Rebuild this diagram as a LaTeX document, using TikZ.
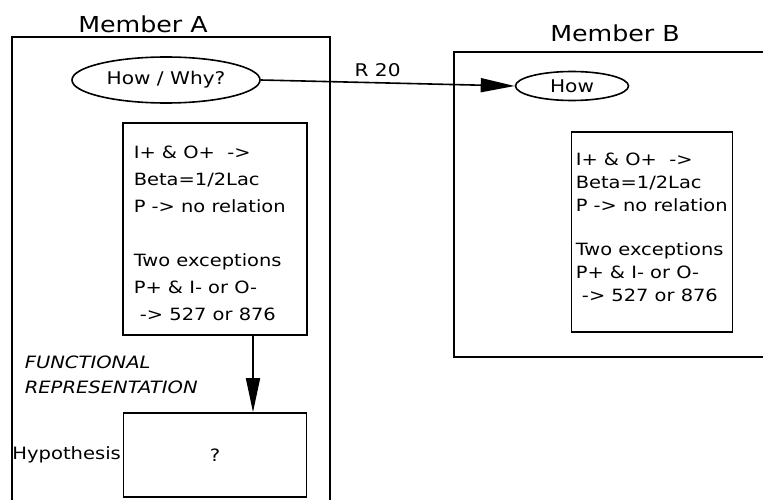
\documentclass[tikz,border=0pt]{standalone}
\usepackage{fontspec}
\setmainfont{DejaVu Sans}[FakeStretch=1.15]
\usepackage{tikz}
\usetikzlibrary{positioning}
\usetikzlibrary{arrows.meta}
\usetikzlibrary{shapes.geometric}

\begin{document}
\begin{tikzpicture}[x=1pt,y=-1pt,line width=1.6pt,>={Triangle[length=34pt,width=14pt]},
member/.style={font=\fontsize{22}{26}\selectfont,inner sep=0pt,anchor=base},
oval/.style={draw,ellipse,inner sep=0pt,font=\fontsize{17.5}{21}\selectfont},
textbox/.style={draw,rectangle,minimum width=#1,inner sep=0pt},
rules/.style={align=left,inner sep=0pt,anchor=north west,font=\fontsize{16.9}{#1}\selectfont}]

\clip (0,0) rectangle (763,500);

% member A
\node[member] (memA) at (143,33) {Member A};
\draw (12,37) rectangle (330,520);
\node[oval,minimum width=188pt,minimum height=46pt] (hw) at (166,80) {How / Why?};
\node[textbox=184pt,minimum height=212pt] (boxA) at (215,229) {};
\node[rules=27pt] (txtA) at (133,145) {I+ \& O+~~->\\Beta=1/2Lac\\P -> no relation\\[27pt]Two exceptions\\P+ \& I- or O-\\~-> 527 or 876};
\node[textbox=183pt,minimum height=84pt,font=\fontsize{17}{21}\selectfont] (hyp) at (215,455) {?};
\node[left=1pt of hyp,inner sep=0pt,font=\fontsize{17}{21}\selectfont] (hyplab) {Hypothesis};
\node[align=left,anchor=west,inner sep=0pt,font=\fontsize{17}{25}\selectfont\itshape] (func) at (24,375) {FUNCTIONAL\\REPRESENTATION};
\draw[->] (boxA.south -| 253,0) -- (hyp.north -| 253,0);

% member B
\node[member] (memB) at (615,42) {Member B};
\draw (454,52) rectangle (780,357);
\node[oval,minimum width=113pt,minimum height=29pt] (how) at (572,86) {How};
\node[textbox=161pt,minimum height=200pt] (boxB) at (652,232) {};
\node[rules=23.3pt] (txtB) at (575,152) {I+ \& O+~~->\\Beta=1/2Lac\\P -> no relation\\[20pt]Two exceptions\\P+ \& I- or O-\\~-> 527 or 876};

% relation
\draw[->] (hw.east) -- node[pos=0.46,above=5pt,inner sep=0pt,font=\fontsize{17.5}{21}\selectfont] (rel) {R 20} (how.west);
\end{tikzpicture}
\end{document}
